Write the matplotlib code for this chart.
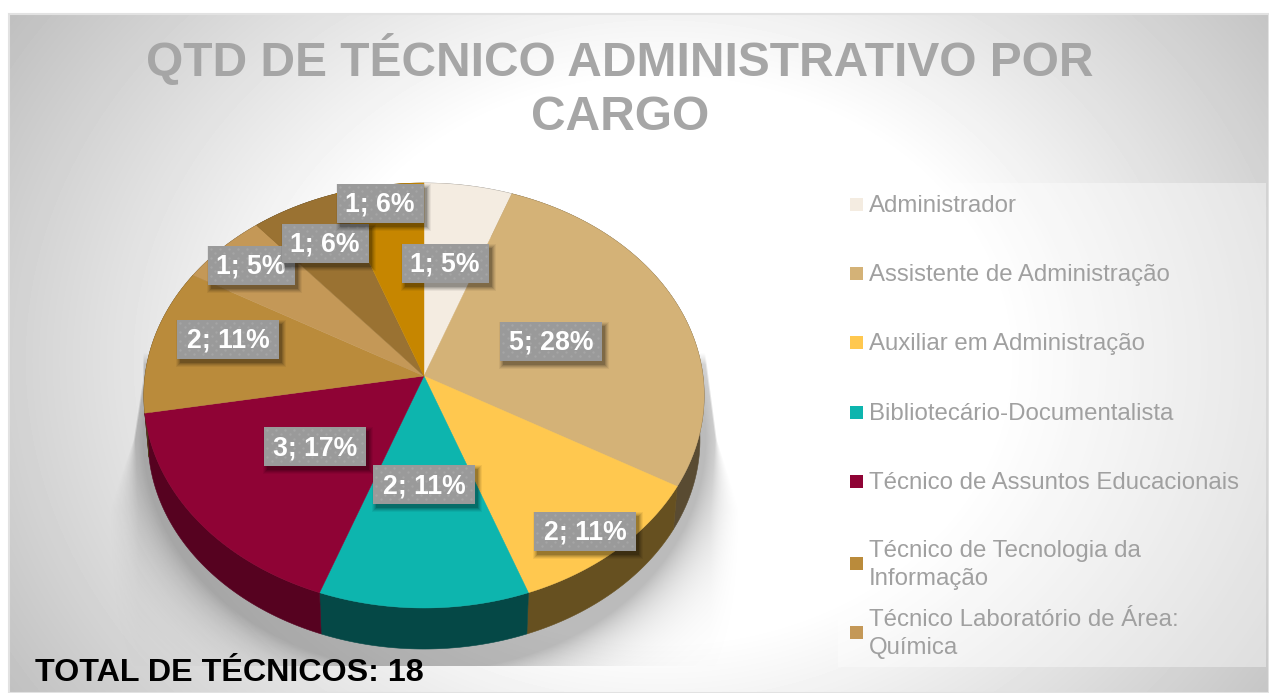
import numpy as np
import matplotlib
matplotlib.use('Agg')
import matplotlib.pyplot as plt
from matplotlib.patches import Polygon, Rectangle

plt.rcParams['font.family'] = ['Liberation Sans', 'DejaVu Sans']

# data
title = 'QTD DE TÉCNICO ADMINISTRATIVO POR\nCARGO'
total_text = 'TOTAL DE TÉCNICOS: 18'
counts = [1, 5, 2, 2, 3, 2, 1, 1, 1]
percents = [5, 28, 11, 11, 17, 11, 5, 6, 6]
colors = ['#F4ECE1', '#D4B277', '#FFC84F', '#0DB5AE', '#8F0335',
          '#BA8B3B', '#C49857', '#9A7232', '#C68600']
wall_shades = [0.42, 0.42, 0.4, 0.4, 0.6, 0.42, 0.42, 0.42, 0.42]
legend_names = ['Administrador', 'Assistente de Administração', 'Auxiliar em Administração',
                'Bibliotecário-Documentalista', 'Técnico de Assuntos Educacionais',
                'Técnico de Tecnologia da\nInformação', 'Técnico Laboratório de Área:\nQuímica']

# layout, in pixels of the picture
legend_y = [204, 273, 342, 412, 481, 563, 632]
label_centres = [(445, 263), (551, 341), (585, 531), (424, 484), (315, 446),
                 (228, 339), (251, 265), (325, 243), (380, 203)]

W, H = 1269, 693
fig = plt.figure(figsize=(W / 100, H / 100), dpi=100)
ax = fig.add_axes([0, 0, 1, 1])

# background gradient, white in the middle and grey to the corners
xx, yy = np.meshgrid(np.arange(10, W), np.arange(14, H))
d = np.sqrt(((xx - 660) / 690.0) ** 2 + ((yy - 360) / 560.0) ** 2)
bg = 1 - 0.26 * np.clip((d - 0.5) / 0.65, 0, 1)
ax.imshow(bg, cmap='gray', vmin=0, vmax=1, extent=(10, W, H, 14), aspect='auto', zorder=0)
ax.add_patch(Rectangle((9, 14), W - 9, H - 14, fill=False, ec='#e2e2e2', lw=1.5, zorder=1))


def project(theta, cx, cy, R, k, p, s=1.0):
    # circle seen in perspective, theta clockwise from the top
    x = np.sin(theta)
    y = -np.cos(theta)
    w = 1 - p * y
    return cx + s * R * x / w, cy + s * k * y / w


cx, cy, R, k, p = 424, 376, 279, 210.7, 0.0918
low_cy, low_s = 420.5, 0.985

# soft shadow round the pie, cut by two slanted sides and at the bottom
xx, yy = np.meshgrid(np.arange(105, 746), np.arange(340, 666))
dist = (np.sqrt(((xx - cx) / 281.0) ** 2 + ((yy - (low_cy + 18)) / 232.0) ** 2) - 1) * 230
shadow = 0.27 * np.exp(-np.clip(dist, 0, None) / 24)
left_side = 143 - np.clip(yy - 380, 0, 130) * 20 / 130.0
right_side = 704 + np.clip(yy - 350, 0, 160) * 21 / 160.0
soft = 2 + np.clip(yy - 440, 0, 70) * 0.4
shadow = shadow * np.clip((xx - left_side) / soft + 0.5, 0, 1) * np.clip((right_side - xx) / soft + 0.5, 0, 1)
shadow = shadow * np.clip((yy - 352) / 12, 0, 1)
rgba = np.zeros(xx.shape + (4,))
rgba[..., 3] = shadow
ax.imshow(rgba, extent=(105, 746, 666, 340), aspect='auto', zorder=2, interpolation='bilinear')
ax.set_xlim(0, W)
ax.set_ylim(H, 0)
ax.axis('off')

# wedges
edges = np.radians(np.cumsum([0] + counts) * 360.0 / sum(counts))
for i, c in enumerate(colors):
    t = np.linspace(edges[i], edges[i + 1], 80)
    x1, y1 = project(t, cx, cy, R, k, p)
    x2, y2 = project(t, cx, low_cy, R, k, p, low_s)
    dark = np.array(matplotlib.colors.to_rgb(c)) * wall_shades[i]
    wall = np.column_stack([np.r_[x1, x2[::-1]], np.r_[y1, y2[::-1]]])
    ax.add_patch(Polygon(wall, fc=dark, ec=dark, lw=0.4, zorder=3))
for i, c in enumerate(colors):
    t = np.linspace(edges[i], edges[i + 1], 80)
    x1, y1 = project(t, cx, cy, R, k, p)
    top = np.column_stack([np.r_[cx, x1], np.r_[cy, y1]])
    ax.add_patch(Polygon(top, fc=c, ec=c, lw=0.3, zorder=4))

# data labels
for i in range(len(counts)):
    text = f'{counts[i]}; {percents[i]}%'
    bw = 87 if len(text) == 5 else 102
    lx, ly = label_centres[i]
    z = 5 + i * 0.1
    for grow, a in [(4, 0.05), (3, 0.07), (2, 0.09), (1, 0.11), (0, 0.15)]:
        ax.add_patch(Rectangle((lx - bw / 2 + 3 - grow, ly - 19.5 + 4 - grow), bw + 2 * grow, 39 + 2 * grow,
                               fc='black', ec='none', alpha=a, zorder=z))
    ax.add_patch(Rectangle((lx - bw / 2, ly - 19.5), bw, 39, fc='#9a9a9a', ec='none', zorder=z + 0.01))
    # dotted fill of the label box
    for row, dy in enumerate(np.arange(-16.5, 19, 4.5)):
        dx = np.arange(-bw / 2 + 3 + (row % 2) * 4.5, bw / 2 - 1, 9)
        ax.scatter(lx + dx, np.full(dx.shape, ly + dy), s=3, c='#a5a5a5', linewidths=0, zorder=z + 0.02)
    ax.text(lx, ly + 2, text, color='white', fontsize=19.2, fontweight='bold', ha='center',
            va='center', zorder=z + 0.03)

# title and note
ax.text(620, 87, title, color='#a6a6a6', fontsize=34.5, fontweight='bold', ha='center',
        va='center', linespacing=1.26, zorder=8)
ax.text(35, 673, total_text, color='black', fontsize=23.2, fontweight='bold', ha='left',
        va='center', zorder=8)

# legend
ax.add_patch(Rectangle((838, 183), 428, 484, fc='white', ec='none', alpha=0.4, zorder=2))
for name, c, ly in zip(legend_names, colors, legend_y):
    ax.add_patch(Rectangle((850, ly - 6.5), 13, 13, fc=c, ec='none', zorder=6))
    ax.text(869, ly + 2, name, color='#a0a0a0', fontsize=17.3, ha='left', va='center',
            linespacing=1.3, zorder=6)

fig.savefig('out.png', dpi=100)
